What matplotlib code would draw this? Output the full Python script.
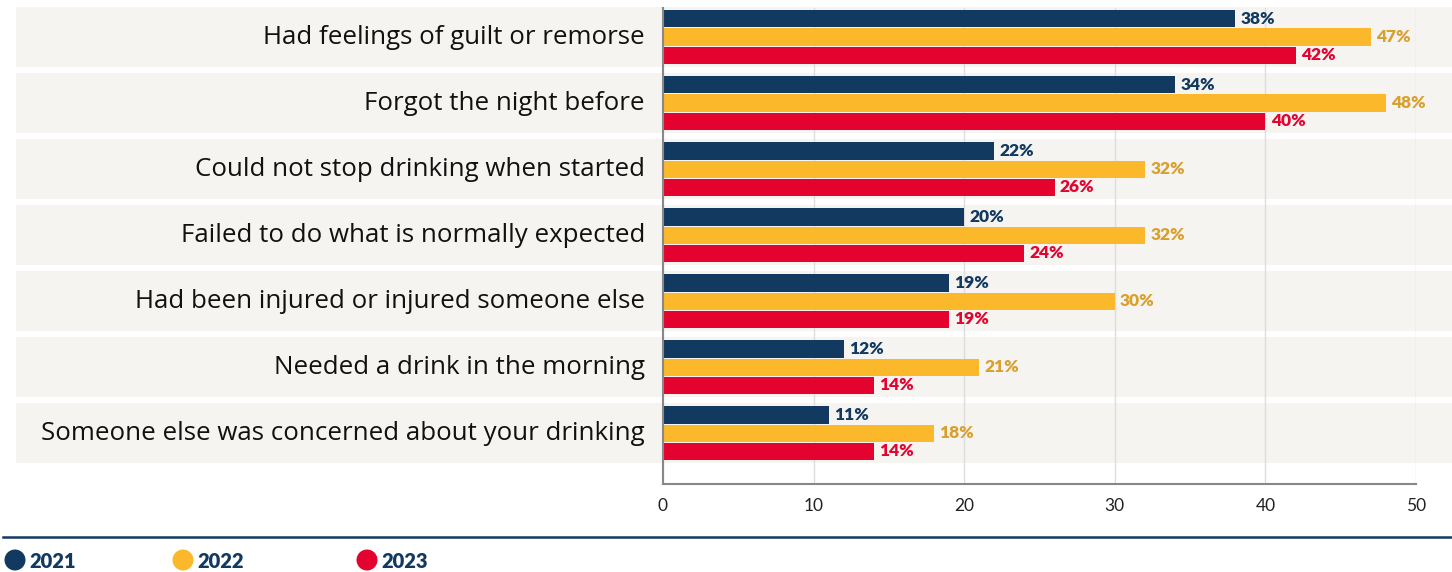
import matplotlib.pyplot as plt
import matplotlib.transforms as mtransforms
from matplotlib.patches import Rectangle, Circle
from matplotlib.lines import Line2D
import numpy as np

categories = [
    "Had feelings of guilt or remorse",
    "Forgot the night before",
    "Could not stop drinking when started",
    "Failed to do what is normally expected",
    "Had been injured or injured someone else",
    "Needed a drink in the morning",
    "Someone else was concerned about your drinking",
]
years = ["2021", "2022", "2023"]
vals_2021 = [38, 34, 22, 20, 19, 12, 11]
vals_2022 = [47, 48, 32, 32, 30, 21, 18]
vals_2023 = [42, 40, 26, 24, 19, 14, 14]

bar_colors = ["#123a60", "#fbb82b", "#e4032e"]
label_colors = ["#123a60", "#d9a02e", "#e4032e"]
band_color = "#f5f4f1"
font = "Lato"

fig = plt.figure(figsize=(14.52, 5.72), dpi=100)
ax = fig.add_axes([663 / 1452, 1 - 484 / 572, (1416 - 663) / 1452, (484 - 8) / 572])

y = np.arange(len(categories))
h = 0.26
series = [vals_2021, vals_2022, vals_2023]

# grey row bands reaching past the axes into the label area
band_tr = mtransforms.blended_transform_factory(fig.transFigure, ax.transData)
for i in y:
    ax.add_patch(Rectangle((16 / 1452, i - 0.455), 1.0, 0.91, transform=band_tr,
                           facecolor=band_color, edgecolor="none", zorder=0, clip_on=False))

for k, vals in enumerate(series):
    pos = y + (k - 1) * (h + 0.015)
    ax.barh(pos, vals, height=h, color=bar_colors[k], zorder=3)
    for p, v in zip(pos, vals):
        ax.text(v + 0.35, p, f"{v}%", va="center", ha="left", color=label_colors[k],
                fontsize=12.5, fontweight="heavy", family=font, zorder=4)

ax.set_ylim(len(categories) - 1 + 0.77, -0.44)
ax.set_xlim(0, 50)
ax.set_xticks(range(0, 51, 10))
ax.set_yticks([])
ax.grid(axis="x", color="#dddddd", linewidth=1, zorder=1)
ax.set_axisbelow(True)
ax.patch.set_alpha(0)
for s in ["top", "right"]:
    ax.spines[s].set_visible(False)
for s in ["left", "bottom"]:
    ax.spines[s].set_color("#888888")
    ax.spines[s].set_linewidth(1.5)
    ax.spines[s].set_zorder(5)
ax.tick_params(axis="x", length=0, pad=10, labelsize=12.5, labelcolor="#222222")
for t in ax.get_xticklabels():
    t.set_family(font)

for i, c in enumerate(categories):
    ax.text(645 / 1452, i, c, transform=band_tr, ha="right", va="center",
            fontsize=18.6, color="#111111", family="Open Sans")

# legend strip under the chart
fig.add_artist(Line2D([3 / 1452, 1], [1 - 537 / 572] * 2, color="#123a60", linewidth=1.8))
leg_x = [15, 183, 367]
for k, yr in enumerate(years):
    cx, cy = leg_x[k] / 1452, 1 - 560 / 572
    fig.add_artist(Circle((leg_x[k], 572 - 560), 10.5, transform=None,
                          facecolor=bar_colors[k], edgecolor="none"))
    fig.text(cx + 14 / 1452, cy - 1 / 572, yr, ha="left", va="center", color="#123a60",
             fontsize=14.5, fontweight="heavy", family=font)

fig.savefig("out.png", dpi=100)
